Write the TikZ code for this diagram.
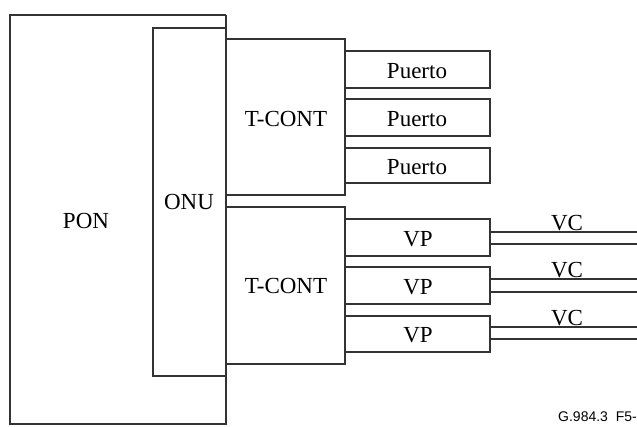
\documentclass[tikz,border=0pt]{standalone}
\usepackage{fontspec}
\setmainfont{Liberation Serif}
\newfontfamily\labelsans{Liberation Sans}
\begin{document}
\begin{tikzpicture}[x=1pt,y=-1pt,
  box/.style={draw=black!80,line width=1.1pt},
  lbl/.style={inner sep=0pt,font=\fontsize{23}{27}\selectfont},
  vcline/.style={draw=black!80,line width=1.1pt}]
\useasboundingbox (0,0) rectangle (637,427);
\fill[white] (0,0) rectangle (637,427);
% PON
\draw[box] (226,15) -- (10,15) -- (10,424) -- (226,424) -- (226,15);
\node[lbl] (pon) at (86,221) {PON};
% ONU
\draw[box] (226,28) -- (153,28) -- (153,376) -- (226,376);
\node[lbl] (onu) at (189,202) {ONU};
% T-CONT top
\draw[box] (226,39) -- (345,39) -- (345,195) -- (226,195);
\node[lbl] (tc1) at (286,119) {T-CONT};
% T-CONT bottom
\draw[box] (226,207) -- (345,207) -- (345,364) -- (226,364);
\node[lbl] (tc2) at (286,286) {T-CONT};
% Puerto boxes
\draw[box] (345,51) rectangle (490,88);
\node[lbl] (p1) at (417,71) {Puerto};
\draw[box] (345,99) rectangle (490,136);
\node[lbl] (p2) at (417,119) {Puerto};
\draw[box] (345,148) rectangle (490,183);
\node[lbl] (p3) at (417,167) {Puerto};
% VP boxes
\draw[box] (345,219) rectangle (490,256);
\node[lbl] (vp1) at (418,239) {VP};
\draw[box] (345,267) rectangle (490,304);
\node[lbl] (vp2) at (418,287) {VP};
\draw[box] (345,316) rectangle (490,352);
\node[lbl] (vp3) at (418,335) {VP};
% VC lines
\coordinate (e1a) at (637,232); \coordinate (e1b) at (637,244);
\coordinate (e2a) at (637,279); \coordinate (e2b) at (637,292);
\coordinate (e3a) at (637,327); \coordinate (e3b) at (637,339);
\draw[vcline] (490,232) -- (e1a); \draw[vcline] (490,244) -- (e1b);
\draw[vcline] (490,279) -- (e2a); \draw[vcline] (490,292) -- (e2b);
\draw[vcline] (490,327) -- (e3a); \draw[vcline] (490,339) -- (e3b);
\node[lbl] (vc1) at (567,223) {VC};
\node[lbl] (vc2) at (567,270) {VC};
\node[lbl] (vc3) at (567,318) {VC};
% code
\node[inner sep=0pt,anchor=east,font=\labelsans\fontsize{14}{16}\selectfont] (code) at (637,417) {G.984.3\ \ F5-};
\end{tikzpicture}
\end{document}
